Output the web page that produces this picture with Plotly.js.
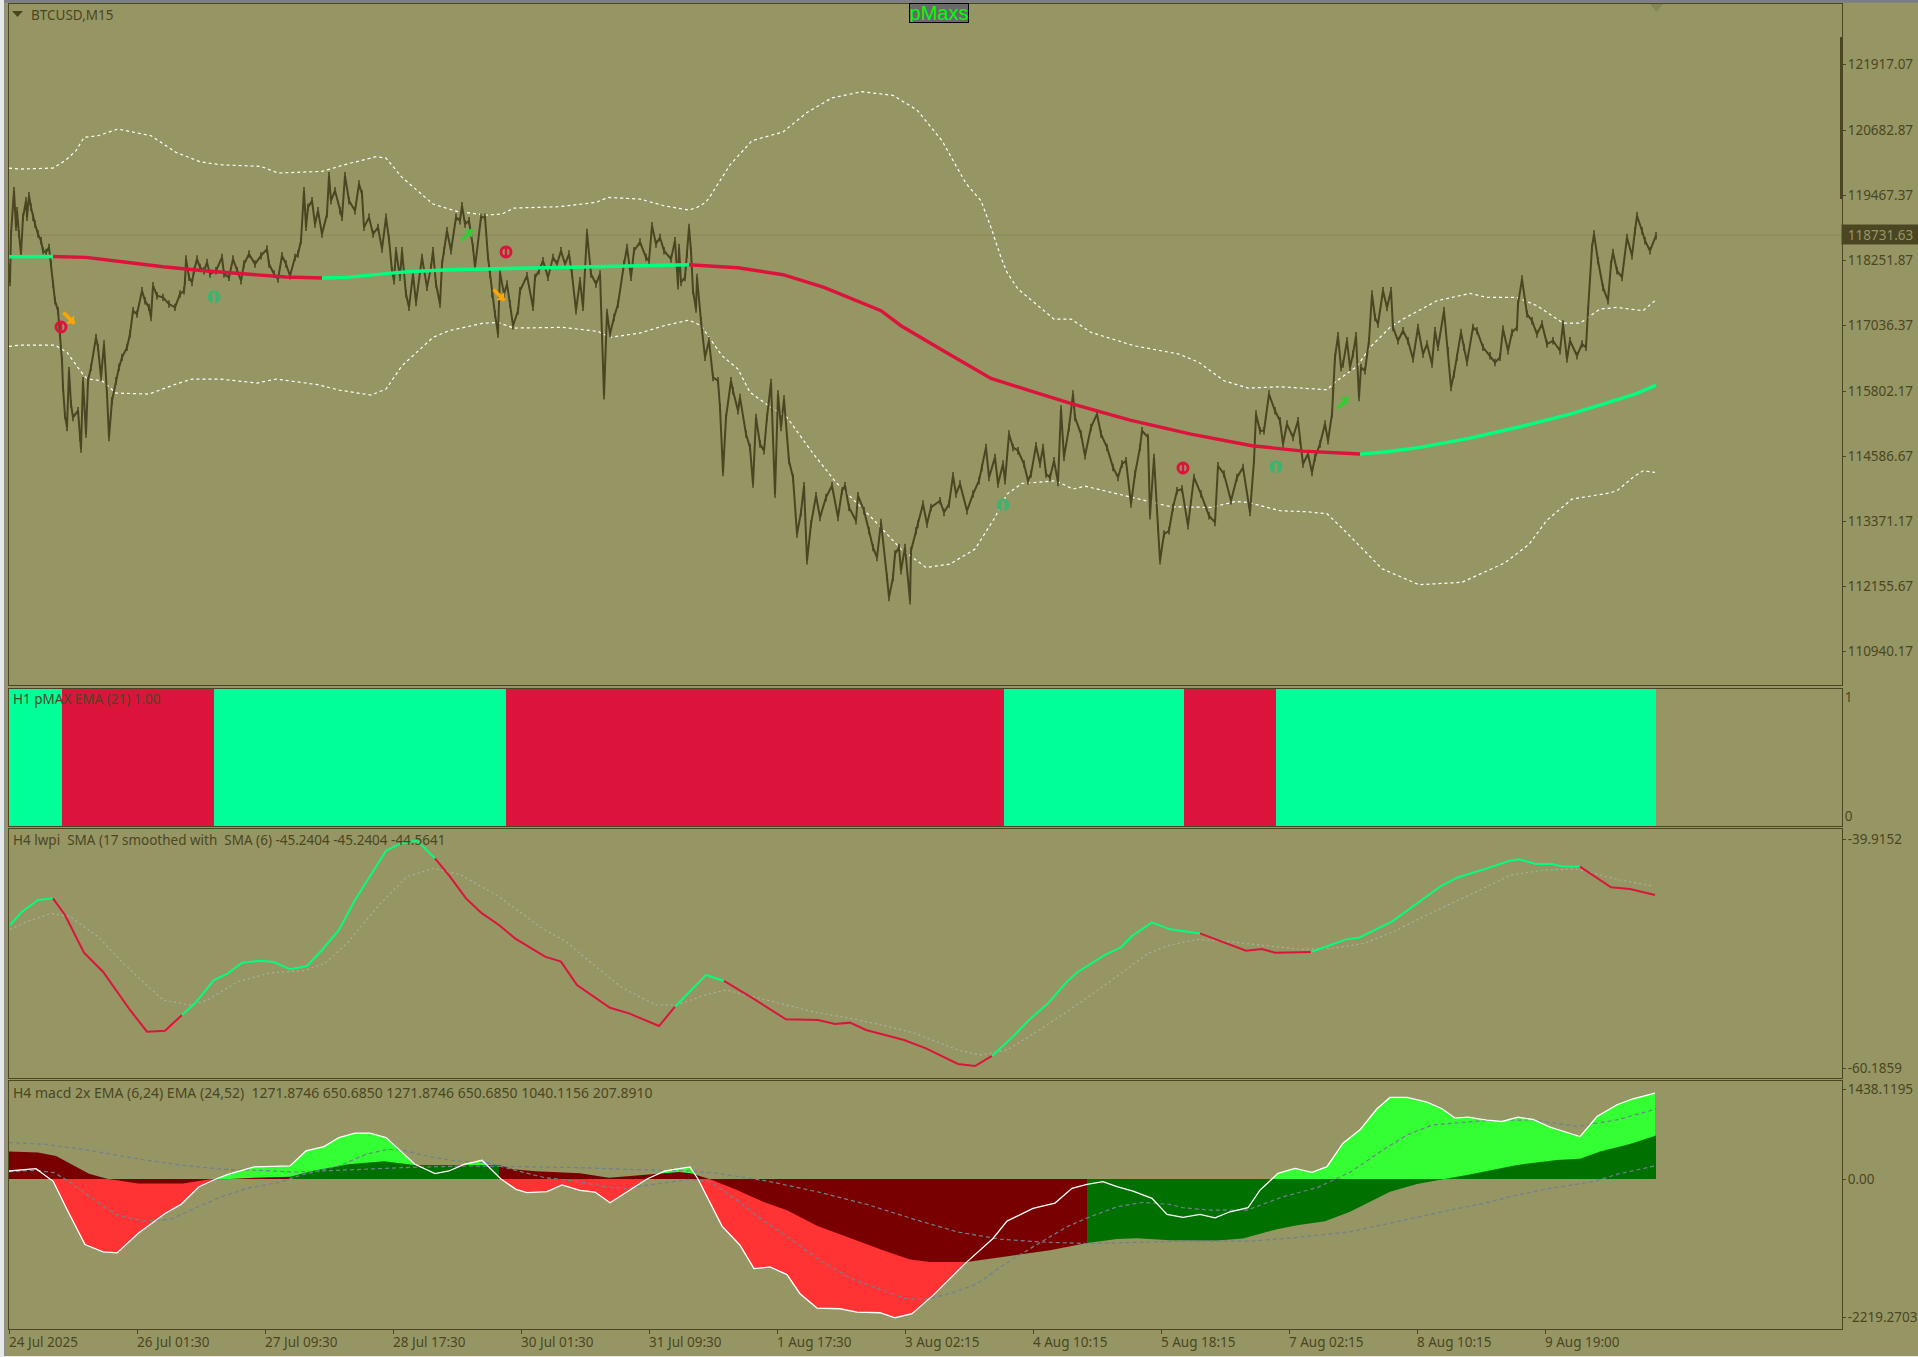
<!DOCTYPE html>
<html><head><meta charset="utf-8"><style>html,body{margin:0;padding:0;background:#969664;overflow:hidden}#c{width:1918px;height:1357px}</style>
<script src="https://cdn.plot.ly/plotly-3.0.1.min.js"></script></head><body><div id="c"></div>
<script>
// ---------- DATA (bar index, 1 bar = 15 minutes) ----------
const xTickIdx=[0,128,256,384,512,640,768,896,1024,1152,1280,1408,1536];
const xTickText=['24 Jul 2025','26 Jul 01:30','27 Jul 09:30','28 Jul 17:30','30 Jul 01:30','31 Jul 09:30','1 Aug 17:30','3 Aug 02:15','4 Aug 10:15','5 Aug 18:15','7 Aug 02:15','8 Aug 10:15','9 Aug 19:00'];
const priceTicks=[121917.07,120682.87,119467.37,118251.87,117036.37,115802.17,114586.67,113371.17,112155.67,110940.17];
const lastPrice=118731.63;
const typicalBarHalfRange=70;
const priceIdx=[0,1,2,5,7,8,10,12,14,17,18,20,22,24,26,29,32,34,37,40,42,44,46,49,51,53,54,56,58,60,62,64,69,71,72,74,77,79,82,87,89,92,95,98,100,103,107,110,113,118,121,124,128,133,136,140,142,144,148,154,160,166,171,175,176,177,180,183,185,188,191,195,198,201,207,213,215,220,224,228,232,235,240,246,252,258,260,265,269,273,277,281,286,289,292,295,297,299,303,306,309,313,318,320,322,326,331,333,336,340,346,350,353,355,360,364,369,373,377,380,383,385,387,391,393,397,400,404,407,413,418,422,424,427,431,433,435,438,442,447,451,453,456,460,464,466,472,476,479,481,483,486,489,491,495,498,501,504,509,511,518,524,526,530,534,539,544,548,552,556,560,563,567,571,574,578,582,587,591,595,598,601,605,609,615,618,622,625,631,637,640,643,647,651,655,662,666,669,670,672,676,678,680,682,684,687,688,692,696,700,704,709,711,714,717,722,724,729,731,737,741,744,747,751,755,758,762,766,769,772,775,780,784,788,792,795,798,802,807,811,817,823,829,833,836,840,847,849,855,860,864,868,872,878,880,884,886,890,892,896,901,902,907,909,914,918,922,931,935,940,944,947,951,958,964,970,973,977,980,986,989,994,996,1000,1004,1009,1015,1019,1022,1027,1031,1034,1037,1041,1045,1049,1052,1055,1060,1064,1066,1072,1076,1082,1088,1092,1098,1104,1109,1113,1117,1122,1126,1131,1133,1139,1141,1145,1149,1151,1155,1160,1164,1168,1173,1179,1185,1192,1200,1206,1209,1215,1222,1228,1234,1241,1245,1247,1251,1255,1260,1266,1271,1274,1278,1284,1289,1291,1294,1299,1303,1306,1311,1316,1319,1323,1324,1326,1329,1332,1334,1338,1341,1344,1347,1350,1352,1356,1360,1363,1366,1369,1374,1378,1382,1384,1389,1394,1399,1404,1409,1414,1418,1423,1426,1429,1435,1439,1442,1445,1448,1452,1455,1458,1464,1468,1474,1481,1486,1491,1494,1499,1503,1508,1509,1513,1518,1523,1528,1533,1538,1544,1551,1554,1558,1561,1568,1573,1577,1579,1583,1585,1589,1594,1599,1602,1604,1608,1613,1618,1623,1626,1628,1633,1636,1641,1647];
const priceVal=[118127,117846,118750,119560,118875,119186,118750,118376,119062,119373,119062,119467,119249,119062,118937,118750,118625,118438,118407,118501,118189,117815,117503,117316,116880,116381,115883,115353,115135,116194,115571,115322,115447,114948,114730,116007,115010,116007,116257,116818,116631,116070,116693,115758,114948,115633,116007,116257,116444,116631,116880,117316,117254,117690,117503,117379,117191,117784,117597,117566,117441,117379,117628,117690,117877,118282,117940,117846,118064,118282,118127,118064,118220,118002,118064,118314,118002,117940,118282,118064,117877,118189,118376,118189,118345,118469,118189,118002,117908,118345,118189,117971,118314,118376,118625,119560,118875,119249,119373,118937,119186,118750,119124,119841,119373,119560,119186,119062,119841,119373,119186,119685,119498,118875,119062,118750,118875,118469,119062,118656,118064,117877,118438,117940,118438,117628,117379,118002,117472,118314,117753,118127,118438,117815,117441,118189,118438,118812,118438,119062,118999,119280,118937,118999,118501,118127,119062,119062,118314,118002,117628,117254,116880,118033,117628,117815,117441,117036,117316,117690,117971,117379,117940,118064,118251,117940,118314,118189,118438,118189,118376,118002,117316,117877,117379,118781,118002,117815,118002,115727,117285,116880,117191,117441,118189,118501,117940,118438,118600,118313,118251,118905,118563,118687,118438,118282,118625,117783,118500,117846,117939,118376,118874,118438,117690,117347,117939,117129,116444,116755,116069,116007,115509,114293,115322,116007,115820,115446,115695,115010,114761,114075,115322,114823,114698,115322,115976,113888,115758,115135,115664,114511,114200,113140,113545,114044,112641,113327,113857,113452,113826,114044,113452,113950,114044,113639,113389,113857,113576,113202,112891,112704,113358,112330,111956,112330,112766,112891,112454,112891,111893,112828,113202,113327,113701,113327,113639,113763,113545,113701,114231,113888,114075,113576,113888,114137,114387,114761,114200,114574,114075,114449,114137,115010,114761,114698,114449,114137,114262,114792,114449,114761,114262,114200,114511,114106,115477,114574,115135,115758,115322,115010,114605,115135,115384,115010,114761,114387,114200,114449,114511,113701,114262,114761,115072,114948,113483,114574,113265,112641,113140,113202,113639,113950,113981,113296,114200,113888,113483,113358,114418,114262,113763,114200,114387,113545,114511,115384,115072,115072,115758,115446,115259,114823,115197,114948,115259,114885,114449,114636,114293,114574,114823,115197,114885,115384,115820,116444,116849,116256,116319,116755,116256,116506,116849,115695,116256,116194,116755,117628,117191,117067,117690,117378,117690,117004,116755,116942,116755,116412,117004,116506,116693,116319,116942,116631,117316,116568,115883,116132,116444,116911,116631,116350,117004,116942,116631,116475,116350,116444,116973,116568,116911,117004,117441,117908,117254,117129,116880,117067,116693,116755,116568,117067,116412,116755,116475,116693,116631,117316,118500,118750,118251,117752,117503,118189,118407,118064,117939,118687,118345,118812,119092,118812,118625,118438,118719];
const pmaxIdx=[0,44,77,113,154,195,236,277,313,338,379,399,440,481,534,583,631,680,729,774,815,872,892,933,982,1019,1064,1121,1182,1243,1294,1351,1378,1411,1461,1511,1561,1594,1628,1647];
const pmaxVal=[118326,118330,118314,118233,118139,118064,118002,117946,117927,117940,118014,118046,118083,118102,118127,118145,118158,118176,118120,117989,117752,117316,117036,116581,116051,115833,115571,115272,115010,114792,114692,114636,114680,114761,114935,115147,115384,115571,115770,115926];
const pmaxBreaks=[44,313,680,1351];
const pmaxColors=['#00FF7F','#DC143C','#00FF7F','#DC143C','#00FF7F'];
const upperIdx=[0,11,44,56,67,75,89,109,142,167,191,211,252,269,313,338,367,377,393,424,448,477,493,505,550,587,599,631,655,680,688,696,700,721,743,774,798,823,853,884,908,933,957,972,982,992,998,1009,1023,1045,1062,1082,1125,1170,1190,1215,1239,1271,1318,1328,1348,1361,1381,1394,1428,1461,1478,1508,1528,1551,1554,1571,1591,1608,1634,1646];
const upperVal=[119984,119965,119984,120121,120308,120558,120589,120713,120589,120277,120102,120046,120015,119891,119922,120059,120196,120171,119810,119311,119174,119105,119124,119236,119261,119342,119435,119404,119280,119198,119248,119336,119424,120042,120496,120659,121023,121297,121412,121343,121070,120496,119696,119373,118874,118313,118033,117721,117503,117160,117160,116911,116662,116506,116350,116007,115870,115895,115839,116007,116275,116630,117004,117160,117503,117640,117565,117565,117410,117129,117085,117085,117347,117378,117316,117503];
const lowerIdx=[0,11,46,58,75,79,93,107,140,167,183,211,248,267,309,330,362,377,393,424,440,473,489,505,554,589,601,631,655,680,692,713,729,741,762,778,802,827,864,892,917,941,966,986,998,1013,1047,1064,1076,1121,1162,1202,1227,1239,1271,1296,1318,1337,1373,1410,1453,1496,1520,1538,1563,1600,1608,1624,1634,1646];
const lowerVal=[116649,116674,116674,116537,116101,116039,116007,115777,115758,115945,116039,116039,115964,116039,115933,115833,115739,115852,116288,116818,116942,117079,117098,116992,117005,116930,116818,116899,117036,117142,117036,116475,116225,115789,115509,115322,114698,114106,113420,112859,112516,112579,112859,113452,113888,114087,114137,113981,114037,113838,113651,113639,113751,113732,113576,113560,113521,113179,112491,112193,112238,112605,112948,113402,113794,113908,113950,114200,114324,114293];
const sellDotIdx=[52,497,1174], sellDotVal=[117012,118415,114376];
const buyDotIdx=[205,994,1267], buyDotVal=[117573,113684,114395];
const sellArrowIdx=[60,490], sellArrowVal=[117180,117611];
const buyArrowIdx=[458,1334], buyArrowVal=[118733,115597];
const pmaxStart=[0,53,205,497,995,1175,1267];
const pmaxEnd=[53,205,497,995,1175,1267,1647];
const pmaxState=[1,0,1,0,1,0,1];
const lwpiTicks=[-39.9152,-60.1859];
const lwpiIdx=[1,13,29,44,56,75,94,121,138,156,173,186,205,219,233,251,265,281,298,313,330,346,377,392,408,426,441,457,473,490,506,536,552,568,601,620,650,666,679,697,715,744,777,809,826,841,857,895,917,949,966,983,1004,1020,1039,1058,1069,1096,1112,1123,1143,1161,1191,1237,1253,1266,1302,1337,1350,1383,1432,1448,1475,1500,1510,1527,1543,1554,1571,1602,1621,1646];
const lwpiVal=[-47.53,-46.35,-45.31,-45.17,-46.64,-49.98,-51.66,-55.05,-56.97,-56.88,-55.49,-54.46,-52.40,-51.81,-50.86,-50.69,-50.80,-51.45,-51.16,-49.74,-47.97,-45.31,-40.95,-40.30,-40.06,-41.63,-43.25,-45.17,-46.50,-47.53,-48.71,-50.33,-50.77,-52.84,-54.85,-55.35,-56.47,-54.76,-53.58,-51.95,-52.48,-54.02,-55.88,-55.94,-56.29,-56.17,-56.82,-57.71,-58.45,-59.83,-60.01,-59.12,-57.41,-55.94,-54.46,-52.54,-51.66,-50.18,-49.50,-48.50,-47.29,-47.91,-48.27,-49.80,-49.65,-49.98,-49.92,-48.80,-48.65,-47.23,-44.08,-43.34,-42.60,-41.86,-41.71,-42.13,-42.13,-42.36,-42.36,-44.19,-44.34,-44.87];
const lwpiBreaks=[44,173,426,666,715,983,1191,1302,1571];
const lwpiColors=['#00FF7F','#DC143C','#00FF7F','#DC143C','#00FF7F','#DC143C','#00FF7F','#DC143C','#00FF7F','#DC143C'];
const lwpiSigIdx=[1,18,42,61,89,116,154,181,197,229,262,295,316,338,370,398,425,452,490,533,557,587,614,647,668,696,717,750,782,804,841,873,906,949,971,998,1025,1058,1096,1139,1161,1188,1220,1264,1291,1323,1356,1388,1421,1464,1502,1535,1567,1611,1643];
const lwpiSigVal=[-47.91,-47.23,-46.50,-46.79,-48.56,-51.07,-54.17,-54.61,-54.23,-52.54,-51.75,-51.57,-50.92,-49.15,-45.76,-43.25,-42.51,-43.10,-45.02,-47.82,-49.00,-51.22,-53.13,-54.61,-54.61,-53.72,-53.28,-54.02,-54.76,-55.20,-55.79,-56.38,-57.12,-58.59,-59.04,-58.59,-57.12,-55.20,-52.84,-50.04,-49.30,-48.80,-49.00,-49.45,-49.68,-49.59,-49.15,-47.97,-46.50,-44.72,-43.10,-42.66,-42.57,-43.54,-44.07];
const macdTicks=[1438.1195,0,-2219.2703];
const macdTickText=['1438.1195','0.00','-2219.2703'];
const macdIdx=[0,9,27,41,44,58,76,94,108,129,156,172,190,207,210,219,245,281,297,315,330,346,361,377,406,426,440,455,473,489,492,507,518,538,553,571,586,601,634,638,656,681,689,713,731,745,761,778,791,808,831,848,871,886,903,924,956,984,998,1024,1046,1063,1078,1094,1108,1124,1143,1158,1174,1191,1206,1221,1239,1251,1263,1269,1286,1303,1318,1334,1351,1368,1381,1398,1418,1433,1446,1459,1478,1493,1509,1524,1541,1571,1588,1608,1624,1646];
const macdVal=[128,139,166,0,-32,-487,-1049,-1166,-1182,-872,-551,-407,-123,0,21,75,193,209,449,519,663,733,733,663,235,86,128,235,300,48,0,-166,-219,-203,-96,-182,-209,-380,-32,0,128,193,0,-754,-1059,-1434,-1407,-1530,-1835,-2065,-2076,-2129,-2140,-2220,-2156,-1862,-1354,-952,-674,-471,-385,-150,-86,-43,-123,-193,-310,-567,-615,-567,-621,-524,-460,-177,0,91,171,107,198,572,786,1124,1305,1305,1230,1124,974,990,942,920,990,952,829,679,1000,1188,1284,1375];
const macdSlowIdx=[0,29,47,62,80,98,129,174,201,221,245,281,303,339,375,406,490,504,527,571,600,629,670,682,701,728,754,778,808,841,874,901,921,958,994,1041,1078,1108,1128,1161,1208,1234,1268,1288,1316,1341,1381,1408,1431,1458,1508,1548,1571,1591,1621,1647];
const macdSlowVal=[439,423,369,235,86,5,-70,-70,-5,0,21,37,128,235,284,225,225,155,123,91,21,59,112,91,-5,-177,-364,-498,-749,-942,-1140,-1289,-1327,-1327,-1247,-1140,-1022,-958,-947,-979,-984,-952,-802,-738,-674,-524,-203,-80,-11,64,225,305,326,439,562,695];
const macdSlowBreaks=[281,490,1078];
const macdSlowColors=['#780000','#007000','#780000','#007000'];
const sigAIdx=[0,36,80,125,170,214,250,286,330,393,460,509,571,616,683,708,758,808,858,908,948,991,1029,1078,1161,1174,1241,1284,1341,1374,1408,1441,1474,1508,1541,1584,1608,1647];
const sigAVal=[583,556,460,332,225,155,139,112,139,182,209,193,182,155,128,91,-32,-203,-407,-658,-845,-963,-1006,-1033,-1006,-995,-995,-942,-845,-728,-605,-498,-391,-257,-150,-43,75,214];
const sigBIdx=[0,27,45,62,80,107,134,161,187,214,241,268,295,330,357,379,393,420,446,478,509,536,571,598,616,647,681,701,728,751,781,808,841,874,894,914,941,968,994,1024,1058,1081,1108,1134,1161,1174,1201,1238,1274,1308,1341,1374,1398,1424,1474,1524,1568,1608,1647];
const sigBVal=[118,139,102,-59,-273,-567,-674,-647,-460,-273,-139,-59,75,209,396,476,465,358,289,262,128,21,-43,-128,-150,-86,-5,-43,-337,-631,-952,-1273,-1584,-1782,-1905,-1931,-1835,-1675,-1380,-1086,-765,-605,-444,-375,-407,-460,-498,-498,-284,-139,107,465,706,867,931,947,840,947,1118];
const titleMain='BTCUSD,M15';
const titlePmax='H1 pMAX EMA (21) 1.00';
const titleLwpi='H4 lwpi  SMA (17 smoothed with  SMA (6) -45.2404 -45.2404 -44.5641';
const titleMacd='H4 macd 2x EMA (6,24) EMA (24,52)  1271.8746 650.6850 1271.8746 650.6850 1040.1156 207.8910';

// ---------- STYLE / LAYOUT ----------
const W=1918,H=1357,BG='#969664',FG='#4B4622',FONT='Noto Sans, Liberation Sans, sans-serif',FS=13.5;
const px=v=>v/W, py=v=>1-v/H;
const dom=(a,b)=>[py(b),py(a)];
function segs(ix,val,breaks,colors,width,xa,ya){
  const out=[];const cuts=[ix[0],...breaks,ix[ix.length-1]];
  for(let k=0;k<cuts.length-1;k++){
    const xs=[],ys=[];
    ix.forEach((d,i)=>{if(d>=cuts[k]&&d<=cuts[k+1]){xs.push(d);ys.push(val[i]);}});
    out.push({type:'scatter',mode:'lines',x:xs,y:ys,xaxis:xa,yaxis:ya,line:{color:colors[k],width:width},hoverinfo:'skip'});
  }
  return out;
}
function area(ix,val,breaks,colors,xa,ya){
  return segs(ix,val,breaks,colors,0,xa,ya).map(t=>({...t,fill:'tozeroy',fillcolor:t.line.color,mode:'lines',line:{width:0,color:t.line.color}}));
}
const ln=(x,y,xa,ya,color,width,dash)=>({type:'scatter',mode:'lines',x,y,xaxis:xa,yaxis:ya,line:{color,width,dash},hoverinfo:'skip'});
const mk=(x,y,marker)=>({type:'scatter',mode:'markers',x,y,xaxis:'x',yaxis:'y',marker,hoverinfo:'skip'});
const traces=[
 ln(upperIdx,upperVal,'x','y','#ffffff',1.2,'3px,3px'),
 ln(lowerIdx,lowerVal,'x','y','#ffffff',1.2,'3px,3px'),
 {...ln(priceIdx,priceVal,'x','y',FG,2),error_y:{type:'constant',value:typicalBarHalfRange,thickness:1.6,width:0,color:FG}},
 ...segs(pmaxIdx,pmaxVal,pmaxBreaks,pmaxColors,3.4,'x','y'),
 mk(sellDotIdx,sellDotVal,{symbol:'circle-open',size:10,color:'#DC143C',line:{width:3,color:'#DC143C'}}),
 mk(sellDotIdx,sellDotVal,{symbol:'line-ns',size:8,line:{width:2.5,color:'#DC143C'}}),
 mk(buyDotIdx,buyDotVal,{symbol:'circle',size:13,color:'#3CB371'}),
 mk(buyDotIdx,buyDotVal.map(v=>v-40),{symbol:'line-ns',size:9,line:{width:3,color:BG}}),
 mk(sellArrowIdx,sellArrowVal,{symbol:'line-nw',size:11,line:{width:3.5,color:'#FFA500'}}),
 mk(sellArrowIdx.map(v=>v+2.5),sellArrowVal.map(v=>v-50),{symbol:'triangle-se',size:9,color:'#FFA500'}),
 mk(buyArrowIdx,buyArrowVal,{symbol:'line-ne',size:11,line:{width:3.5,color:'#32CD32'}}),
 mk(buyArrowIdx.map(v=>v+2.5),buyArrowVal.map(v=>v+50),{symbol:'triangle-ne',size:9,color:'#32CD32'}),
 {type:'bar',x:pmaxStart,y:pmaxState.map(()=>1),width:pmaxStart.map((s,i)=>pmaxEnd[i]-s),offset:0,xaxis:'x2',yaxis:'y2',marker:{color:pmaxState.map(s=>s?'#00FF99':'#DC143C'),line:{width:0}}},
 ln(lwpiSigIdx,lwpiSigVal,'x3','y3','#B0B0A8',1.1,'2px,3px'),
 ...segs(lwpiIdx,lwpiVal,lwpiBreaks,lwpiColors,2,'x3','y3'),
 {...ln(macdIdx,macdVal.map(v=>Math.max(v,0)),'x4','y4','#33FF33',0),fill:'tozeroy',fillcolor:'#33FF33',mode:'none'},
 {...ln(macdIdx,macdVal.map(v=>Math.min(v,0)),'x4','y4','#FF3333',0),fill:'tozeroy',fillcolor:'#FF3333',mode:'none'},
 ...area(macdSlowIdx,macdSlowVal,macdSlowBreaks,macdSlowColors,'x4','y4'),
 ln(sigAIdx,sigAVal,'x4','y4','#708090',1.2,'4px,3px'),
 ln(sigBIdx,sigBVal,'x4','y4','#708090',1.2,'4px,3px'),
 ln(macdIdx,macdVal,'x4','y4','#ffffff',1.3),
];
const xbase={range:[0,1833],domain:[px(9),px(1842)],showgrid:false,zeroline:false,showline:true,mirror:true,linecolor:FG,linewidth:1,ticks:'',showticklabels:false,fixedrange:true};
const ybase={side:'right',showgrid:false,zeroline:false,showline:true,mirror:true,linecolor:FG,linewidth:1,ticks:'outside',ticklen:3,tickcolor:FG,tickfont:{family:FONT,size:FS,color:FG},fixedrange:true,tickmode:'array',ticklabelstandoff:-1};
const note=(text,x,y,size)=>({text,xref:'paper',yref:'paper',x:px(x),y:py(y),xanchor:'left',yanchor:'middle',showarrow:false,font:{family:FONT,size:size||FS,color:FG}});
const layout={width:W,height:H,margin:{l:0,r:0,t:0,b:0,pad:0},paper_bgcolor:BG,plot_bgcolor:BG,showlegend:false,barmode:'overlay',
 xaxis:{...xbase,anchor:'y'},
 xaxis2:{...xbase,anchor:'y2'},
 xaxis3:{...xbase,anchor:'y3'},
 xaxis4:{...xbase,anchor:'y4',ticks:'outside',ticklen:4,tickcolor:FG,tickmode:'array',tickvals:xTickIdx},
 yaxis:{...ybase,anchor:'x',domain:dom(3.5,685),range:[110318,123061],tickvals:priceTicks,ticktext:priceTicks.map(v=>v.toFixed(2))},
 yaxis2:{...ybase,anchor:'x2',domain:dom(689,826),range:[0,1],tickvals:[0.07,0.94],ticktext:['0','1'],ticks:''},
 yaxis3:{...ybase,anchor:'x3',domain:dom(829,1078),range:[-61.07,-39.03],tickvals:lwpiTicks,ticktext:lwpiTicks.map(v=>v.toFixed(4))},
 yaxis4:{...ybase,anchor:'x4',domain:dom(1081,1329),range:[-2400,1568],tickvals:macdTicks,ticktext:macdTickText},
 shapes:[
  {type:'line',xref:'x',yref:'y',x0:0,x1:1833,y0:lastPrice,y1:lastPrice,line:{color:'#85855A',width:1},layer:'below'},
  {type:'rect',xref:'paper',yref:'paper',x0:px(0),x1:px(W),y0:py(2.7),y1:py(0),fillcolor:'#7D7D85',line:{width:0}},
  {type:'rect',xref:'paper',yref:'paper',x0:px(0),x1:px(4),y0:py(H),y1:py(0),fillcolor:'#E8E8E8',line:{width:0}},
  {type:'rect',xref:'paper',yref:'paper',x0:px(4),x1:px(5),y0:py(H),y1:py(2.7),fillcolor:'#8C8C8C',line:{width:0}},
  {type:'rect',xref:'paper',yref:'paper',x0:px(0),x1:px(W),y0:py(H),y1:py(1356),fillcolor:'#E8E8E8',line:{width:0}},
  {type:'rect',xref:'paper',yref:'paper',x0:px(1840),x1:px(1843),y0:py(199),y1:py(37),fillcolor:FG,line:{width:0}},
  {type:'path',xref:'paper',yref:'paper',path:`M ${px(1650)} ${py(4)} L ${px(1663)} ${py(4)} L ${px(1656.5)} ${py(12)} Z`,fillcolor:'#85855A',line:{width:0}},
  {type:'path',xref:'paper',yref:'paper',path:`M ${px(12)} ${py(11)} L ${px(23)} ${py(11)} L ${px(17.5)} ${py(17)} Z`,fillcolor:FG,line:{width:0}},
 ],
 annotations:[
  note(titleMain,29,15),
  note(titlePmax,11,698.5),
  note(titleLwpi,11,840),
  note(titleMacd,11,1092,14),
  ...xTickIdx.map((ix,i)=>({text:xTickText[i],xref:'x4',yref:'paper',x:ix,xshift:-2,y:py(1342),xanchor:'left',yanchor:'middle',showarrow:false,font:{family:FONT,size:FS,color:FG}})),
  {text:lastPrice.toFixed(2),xref:'paper',yref:'paper',x:px(1880.5),y:py(234.5),xanchor:'center',yanchor:'middle',showarrow:false,width:75,height:17,bgcolor:FG,font:{family:FONT,size:FS,color:BG}},
  {text:'pMaxs',xref:'paper',yref:'paper',x:px(938.5),y:py(13.5),xanchor:'center',yanchor:'middle',showarrow:false,width:58,height:18,bgcolor:'#696969',bordercolor:'#000000',borderwidth:1,borderpad:0,font:{family:'Liberation Sans',size:20,color:'#00FF00'}},
 ]
};
Plotly.newPlot('c',traces,layout,{staticPlot:true,displayModeBar:false});
</script></body></html>
